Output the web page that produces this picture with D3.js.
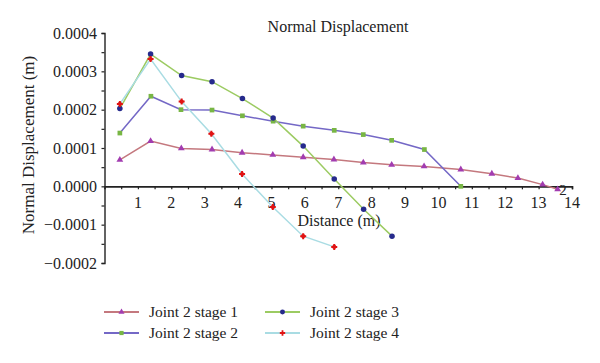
<!DOCTYPE html>
<html><head><meta charset="utf-8">
<script src="https://cdn.jsdelivr.net/npm/d3@7"></script>
<style>body{margin:0;background:#fff}svg{display:block}text{font-family:"Liberation Serif","DejaVu Serif",serif;fill:#222}</style>
</head><body><svg id="c" width="600" height="363"></svg>
<script>
const xTicks = [1,2,3,4,5,6,7,8,9,10,11,12,13,14];
const yTicks = [-0.0002,-0.0001,0,0.0001,0.0002,0.0003,0.0004];
const seriesNames = ["Joint 2 stage 1","Joint 2 stage 2","Joint 2 stage 3","Joint 2 stage 4"];
const stage1X = [0.46,1.38,2.30,3.22,4.12,5.04,5.95,6.87,7.75,8.60,9.57,10.67,11.60,12.38,13.12,13.57];
const stage1Y = [0.000069,0.000118,0.000099,0.000096,0.0000875,0.000082,0.000076,0.00007,0.000062,0.000056,0.000052,0.000044,0.000033,0.0000216,0.0000044,-0.0000078];
const stage2X = [0.46,1.39,2.29,3.22,4.13,5.05,5.95,6.88,7.75,8.60,9.58,10.67];
const stage2Y = [0.000139,0.000235,0.0002,0.000199,0.000184,0.00017,0.000157,0.000146,0.000135,0.00012,0.000096,0];
const stage3X = [0.46,1.38,2.31,3.22,4.13,5.05,5.95,6.88,7.76,8.61];
const stage3Y = [0.000203,0.000345,0.000289,0.000273,0.000229,0.000178,0.000105,0.000019,-0.00006,-0.00013];
const stage4X = [0.46,1.38,2.31,3.20,4.12,5.04,5.95,6.88];
const stage4Y = [0.000215,0.000332,0.000221,0.000137,0.000032,-0.000054,-0.00013,-0.000158];
const lineColors = ["#c4787e","#7468c6","#9ccb62","#a9dce3"];
const markerColors = ["#a23cb0","#78b644","#262a8c","#e01414"];
const markerShapes = [d3.symbolTriangle, d3.symbolSquare, d3.symbolCircle, d3.symbolCross];
const markerSizes = [20, 22, 24, 20];

const data = [[stage1X,stage1Y],[stage2X,stage2Y],[stage3X,stage3Y],[stage4X,stage4Y]]
  .map(([xs,ys]) => xs.map((x,i)=>({x, y: ys[i]})));

const svg = d3.select("#c");
const x = d3.scaleLinear().domain([0,14]).range([104.5, 572]);
const y = d3.scaleLinear().domain([-0.0002,0.0004]).range([263, 33]);

// title
svg.append("text").attr("x",338).attr("y",32).attr("text-anchor","middle").style("font-size","16px").text("Normal Displacement");

// y axis
const yAxis = d3.axisLeft(y).tickValues(d3.range(-0.0002,0.00041,0.00005)).tickSize(3).tickFormat(()=> "");
const gy = svg.append("g").attr("transform",`translate(${x(0)},0)`).call(yAxis);
gy.select(".domain").attr("stroke","#222").attr("stroke-width",1.4);
gy.selectAll(".tick line").attr("stroke","#222").attr("stroke-width",1.2);
svg.append("g").selectAll("text").data(yTicks).join("text")
  .attr("x",97).attr("y",d=>y(d)+5.5).attr("text-anchor","end").style("font-size","16px")
  .text(d=> (d<0? "\u2212":"") + Math.abs(d).toFixed(4));

// x axis
const xAxis = d3.axisBottom(x).tickValues(d3.range(0.5,14.01,0.5)).tickSize(3).tickFormat(()=> "");
const gx = svg.append("g").attr("transform",`translate(0,${y(0)})`).call(xAxis);
gx.select(".domain").attr("stroke","#222").attr("stroke-width",1.6);
gx.selectAll(".tick line").attr("stroke","#222").attr("stroke-width",1.2);
svg.append("g").selectAll("text").data(xTicks).join("text")
  .attr("x",d=>x(d)).attr("y",y(0)+22).attr("text-anchor","middle").style("font-size","16px").text(d=>d);

svg.append("text").attr("x",339).attr("y",226).attr("text-anchor","middle").style("font-size","16px").text("Distance (m)");
svg.append("text").attr("transform","translate(34,145) rotate(-90)").attr("text-anchor","middle").style("font-size","17px").text("Normal Displacement (m)");

// lines
const line = d3.line().x(d=>x(d.x)).y(d=>y(d.y));
data.forEach((s,i)=>{
  svg.append("path").datum(s).attr("d",line).attr("fill","none").attr("stroke",lineColors[i]).attr("stroke-width",1.5);
});
data.forEach((s,i)=>{
  const g = svg.append("g");
  g.selectAll("path").data(s).join("path")
    .attr("transform",d=>`translate(${x(d.x)},${y(d.y)})`)
    .attr("d",d3.symbol().type(markerShapes[i]).size(markerSizes[i]))
    .attr("fill",markerColors[i]);
  if (i===3) g.selectAll("circle").data(s).join("circle")
    .attr("cx",d=>x(d.x)).attr("cy",d=>y(d.y)).attr("r",2.1).attr("fill",markerColors[i]);
});
svg.append("text").attr("x",563).attr("y",195).attr("text-anchor","middle").style("font-size","15px").text("2");

// legend
const legPos = [[104,312],[104,333],[265,312],[265,333]];
seriesNames.forEach((n,i)=>{
  const [lx,ly] = legPos[i];
  const g = svg.append("g");
  g.append("line").attr("x1",lx).attr("x2",lx+35).attr("y1",ly).attr("y2",ly).attr("stroke",lineColors[i]).attr("stroke-width",1.8);
  g.append("path").attr("transform",`translate(${lx+17.5},${ly})`).attr("d",d3.symbol().type(markerShapes[i]).size(markerSizes[i]*0.8)).attr("fill",markerColors[i]);
  g.append("text").attr("x",lx+45).attr("y",ly+5).style("font-size","15.5px").text(n);
});
</script></body></html>
